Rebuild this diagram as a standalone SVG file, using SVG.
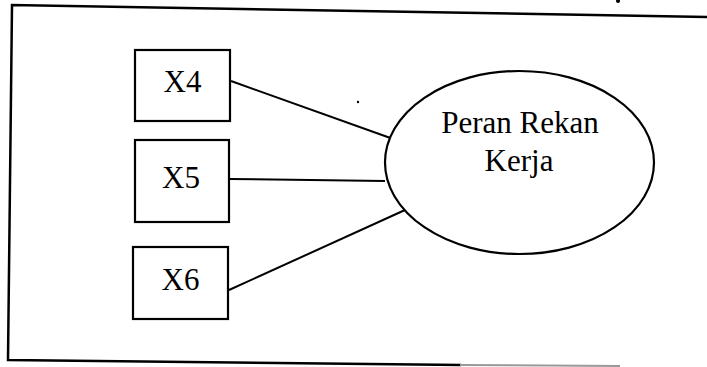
<svg xmlns="http://www.w3.org/2000/svg" width="707" height="367" viewBox="0 0 707 367">
  <style>
    .frame { fill: none; stroke: #000; stroke-width: 2.5; stroke-linecap: square; }
    .box { fill: #fff; stroke: #000; stroke-width: 2.2; }
    .oval { fill: #fff; stroke: #000; stroke-width: 2.2; }
    .link { stroke: #000; stroke-width: 2; fill: none; }
    .lbl { font-size: 31px; fill: #000; text-anchor: middle; }
  </style>
  <rect width="707" height="367" fill="#fff"/>

  <!-- outer frame -->
  <g id="frame">
    <polyline class="frame" points="707,17 12,5 8,360 460,365"/>
    <line x1="460" y1="365" x2="620" y2="366" stroke="#999" stroke-width="2"/>
  </g>

  <!-- connectors -->
  <g id="connectors">
    <line class="link" x1="231" y1="81" x2="396" y2="140"/>
    <line class="link" x1="230" y1="179" x2="385" y2="181"/>
    <line class="link" x1="229" y1="290" x2="405" y2="210"/>
  </g>

  <g font-family="'Liberation Serif', 'DejaVu Serif', serif">
    <g id="x4">
      <rect class="box" x="135" y="50" width="95" height="71"/>
      <text class="lbl" x="182.5" y="92">X4</text>
    </g>
    <g id="x5">
      <rect class="box" x="135" y="140" width="94" height="82"/>
      <text class="lbl" x="181" y="188">X5</text>
    </g>
    <g id="x6">
      <rect class="box" x="133" y="247" width="95" height="72"/>
      <text class="lbl" x="180.5" y="290">X6</text>
    </g>

    <g id="peran-rekan-kerja">
      <ellipse class="oval" cx="519.5" cy="162.5" rx="134.5" ry="91.5"/>
      <text class="lbl" x="520" y="133">Peran Rekan</text>
      <text class="lbl" x="519" y="171">Kerja</text>
    </g>
  </g>

  <!-- stray specks -->
  <circle cx="358" cy="102" r="1.2" fill="#000"/>
  <circle cx="618" cy="1" r="2" fill="#000"/>
</svg>
